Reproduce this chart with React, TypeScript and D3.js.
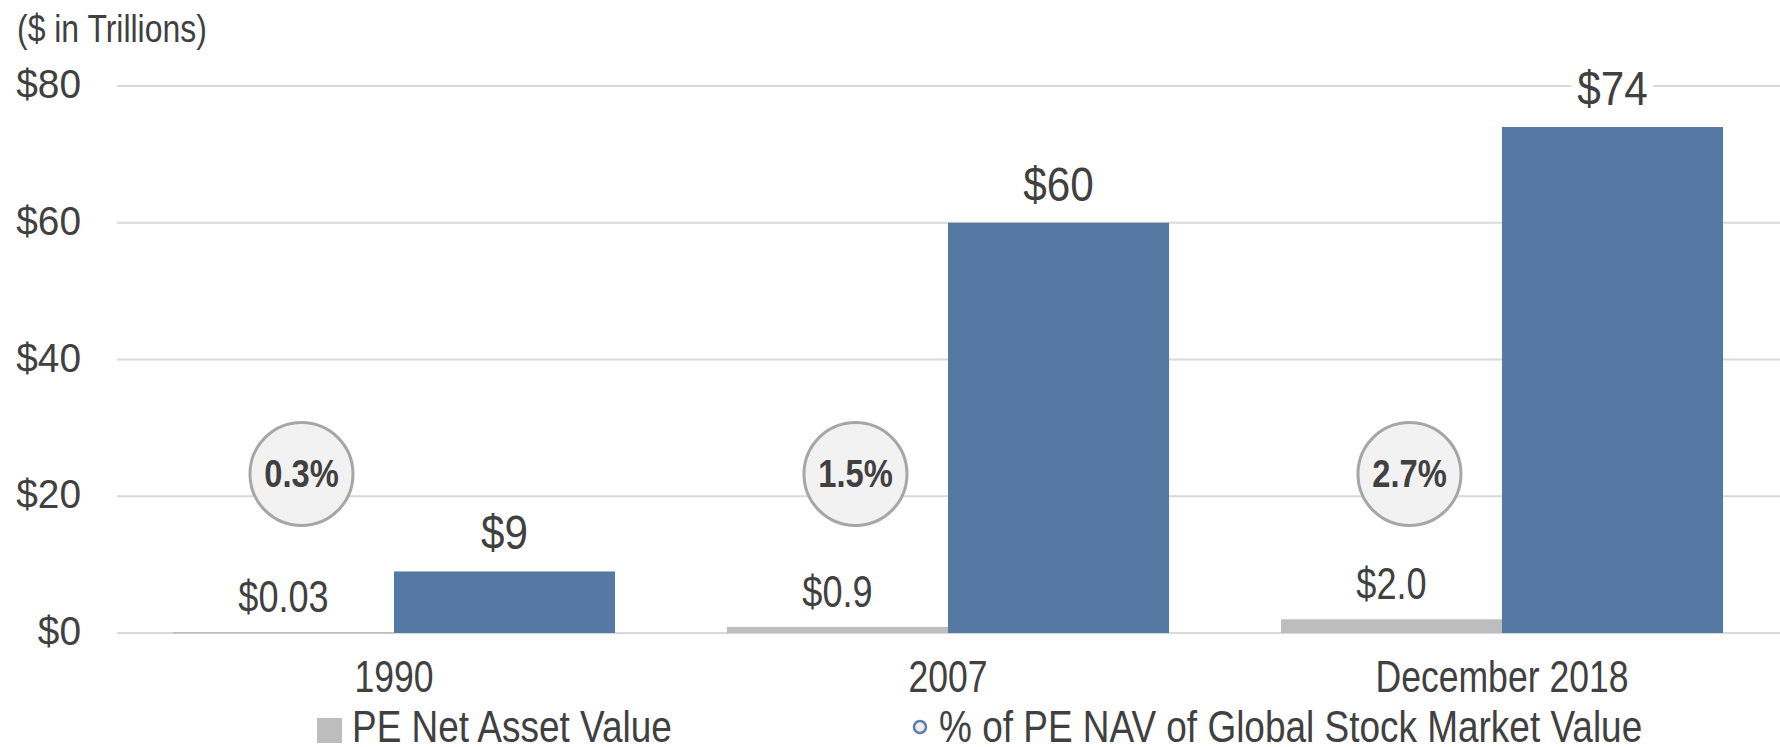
import React, { useEffect, useRef } from "react";
import * as d3 from "d3";

const categories = ["1990", "2007", "December 2018"];
const peNav = [0.03, 0.9, 2.0];
const stockMarket = [9, 60, 74];
const navLabels = ["$0.03", "$0.9", "$2.0"];
const marketLabels = ["$9", "$60", "$74"];
const pctLabels = ["0.3%", "1.5%", "2.7%"];
const yTicks = [0, 20, 40, 60, 80];
const legendItems = ["PE Net Asset Value", "% of PE NAV of Global Stock Market Value"];

const W = 1780;
const H = 747;
const FONT = "'Liberation Sans Narrow', 'Arial Narrow', 'Liberation Sans', sans-serif";

const colors = {
  grid: "#d9d9d9",
  text: "#404040",
  blue: "#5579a2",
  gray: "#bcbdbc",
  bubbleFill: "#f2f2f2",
  bubbleStroke: "#a6a6a6",
  legendDot: "#5b7fae"
};

// no narrow font installed, so squeeze the regular one horizontally
const squeeze = (sel: any, k: number) => {
  sel.each(function (this: SVGTextElement) {
    const len = this.getComputedTextLength();
    this.setAttribute("textLength", String(len * k));
    this.setAttribute("lengthAdjust", "spacingAndGlyphs");
  });
};

const App = () => {
  const svgRef = useRef<SVGSVGElement>(null);

  useEffect(() => {
    const svg = d3.select(svgRef.current);
    svg.selectAll("*").remove();

    const x0 = d3
      .scaleBand()
      .domain(categories)
      .range([117, 1779])
      .paddingInner(0.202)
      .paddingOuter(0.101);

    const x1 = d3
      .scaleBand()
      .domain(["nav", "market"])
      .range([0, x0.bandwidth()]);

    const y = d3.scaleLinear().domain([0, 80]).range([633, 86]);

    // gridlines
    svg
      .append("g")
      .selectAll("line")
      .data(yTicks)
      .enter()
      .append("line")
      .attr("x1", 117)
      .attr("x2", W)
      .attr("y1", (d) => y(d))
      .attr("y2", (d) => y(d))
      .attr("stroke", colors.grid)
      .attr("stroke-width", 2);

    // y tick labels
    const ticks = svg
      .append("g")
      .selectAll("text")
      .data(yTicks)
      .enter()
      .append("text")
      .attr("x", 81)
      .attr("y", (d) => y(d) - 2)
      .attr("dominant-baseline", "central")
      .attr("text-anchor", "end")
      .attr("font-family", FONT)
      .attr("font-size", 40)
      .attr("fill", colors.text)
      .text((d) => `$${d}`);
    squeeze(ticks, 0.97);

    const title = svg
      .append("text")
      .attr("x", 17)
      .attr("y", 42)
      .attr("font-family", FONT)
      .attr("font-size", 38)
      .attr("fill", colors.text)
      .text("($ in Trillions)");
    squeeze(title, 0.84);

    const groups = svg
      .append("g")
      .selectAll("g")
      .data(categories)
      .enter()
      .append("g")
      .attr("transform", (d) => `translate(${x0(d)},0)`);

    // PE NAV bars
    groups
      .append("rect")
      .attr("x", x1("nav"))
      .attr("width", x1.bandwidth())
      .attr("y", (d, i) => Math.min(y(peNav[i]), 632))
      .attr("height", (d, i) => Math.max(y(0) - y(peNav[i]), 1.5))
      .attr("fill", colors.gray);

    // stock market bars
    groups
      .append("rect")
      .attr("x", x1("market"))
      .attr("width", x1.bandwidth())
      .attr("y", (d, i) => y(stockMarket[i]))
      .attr("height", (d, i) => y(0) - y(stockMarket[i]))
      .attr("fill", colors.blue);

    // nav labels
    const navText = groups
      .append("text")
      .attr("x", x1("nav") + x1.bandwidth() / 2)
      .attr("y", (d, i) => Math.min(y(peNav[i]), 632) - 20)
      .attr("text-anchor", "middle")
      .attr("font-family", FONT)
      .attr("font-size", 44)
      .attr("fill", colors.text)
      .text((d, i) => navLabels[i]);
    squeeze(navText, 0.82);

    // market labels with white backing
    groups
      .append("rect")
      .attr("x", x1("market") + x1.bandwidth() / 2 - 41)
      .attr("y", (d, i) => y(stockMarket[i]) - 58)
      .attr("width", 82)
      .attr("height", 42)
      .attr("fill", "#fff");

    const marketText = groups
      .append("text")
      .attr("x", x1("market") + x1.bandwidth() / 2)
      .attr("y", (d, i) => y(stockMarket[i]) - 22)
      .attr("text-anchor", "middle")
      .attr("font-family", FONT)
      .attr("font-size", 48)
      .attr("fill", colors.text)
      .text((d, i) => marketLabels[i]);
    squeeze(marketText, 0.88);

    // pct bubbles
    const bubble = groups
      .append("g")
      .attr("transform", `translate(${x1("nav") + x1.bandwidth() / 2 + 18},474)`);

    bubble
      .append("circle")
      .attr("r", 51.5)
      .attr("fill", colors.bubbleFill)
      .attr("stroke", colors.bubbleStroke)
      .attr("stroke-width", 3);

    const pctText = bubble
      .append("text")
      .attr("y", 0)
      .attr("dominant-baseline", "central")
      .attr("text-anchor", "middle")
      .attr("font-family", FONT)
      .attr("font-weight", "bold")
      .attr("font-size", 38)
      .attr("fill", colors.text)
      .text((d, i) => pctLabels[i]);
    squeeze(pctText, 0.86);

    // category labels
    const catText = groups
      .append("text")
      .attr("x", x0.bandwidth() / 2)
      .attr("y", 692)
      .attr("text-anchor", "middle")
      .attr("font-family", FONT)
      .attr("font-size", 45)
      .attr("fill", colors.text)
      .text((d) => d);
    squeeze(catText, 0.79);

    // legend
    const legend = svg.append("g");
    legend
      .append("rect")
      .attr("x", 317)
      .attr("y", 718)
      .attr("width", 25)
      .attr("height", 25)
      .attr("fill", colors.gray);
    const leg1 = legend
      .append("text")
      .attr("x", 352)
      .attr("y", 742)
      .attr("font-family", FONT)
      .attr("font-size", 44)
      .attr("fill", colors.text)
      .text(legendItems[0]);
    squeeze(leg1, 0.84);
    legend
      .append("circle")
      .attr("cx", 920)
      .attr("cy", 727)
      .attr("r", 6)
      .attr("fill", "#f4ece8")
      .attr("stroke", colors.legendDot)
      .attr("stroke-width", 2.5);
    const leg2 = legend
      .append("text")
      .attr("x", 939)
      .attr("y", 742)
      .attr("font-family", FONT)
      .attr("font-size", 44)
      .attr("fill", colors.text)
      .text(legendItems[1]);
    squeeze(leg2, 0.84);
  }, []);

  return (
    <svg
      ref={svgRef}
      width={W}
      height={H}
      style={{ position: "absolute", left: 0, top: 0, background: "#fff" }}
    ></svg>
  );
};

export default App;
